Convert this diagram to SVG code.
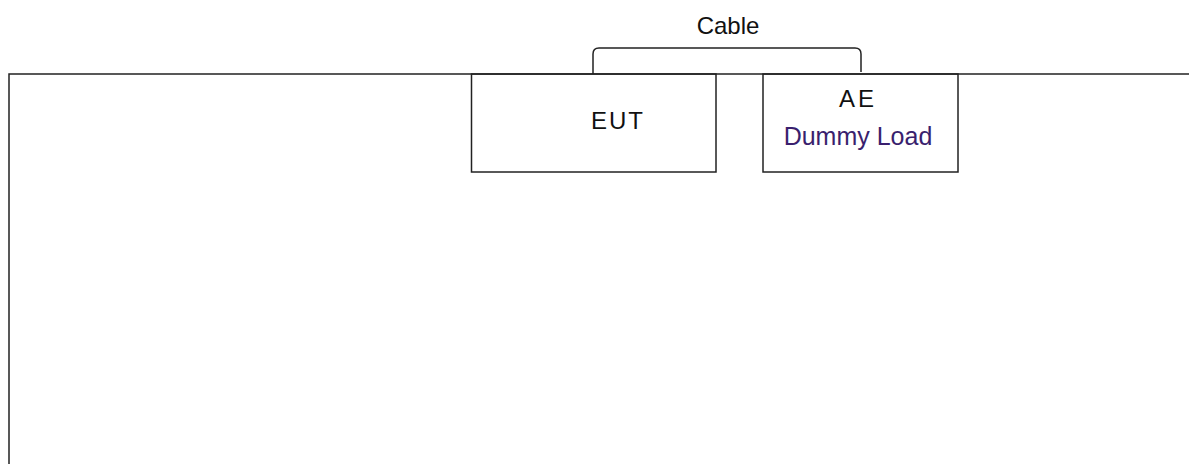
<svg xmlns="http://www.w3.org/2000/svg" width="1189" height="464" viewBox="0 0 1189 464">
<style>
.ln{fill:none;stroke:#222;stroke-width:1.5}
.t{font-family:"Liberation Sans",Arial,sans-serif;font-size:24px;text-anchor:middle;fill:#111}
.sp{letter-spacing:2px}
</style>
<rect width="1189" height="464" fill="#fff"/>
<g id="table">
<path class="ln" d="M9,464 V74 H1189"/>
</g>
<g id="eut">
<rect class="ln" x="471.5" y="74" width="244.5" height="98"/>
<text class="t sp" x="618" y="129">EUT</text>
</g>
<g id="ae">
<rect class="ln" x="763" y="74" width="195" height="98"/>
<text class="t" x="858" y="107" style="letter-spacing:3px">AE</text>
<text class="t" x="858" y="145" style="fill:#3a1f6e;font-size:25px">Dummy Load</text>
</g>
<g id="connectors">
<path class="ln" d="M593,74 V54 Q593,48 599,48 H855 Q861,48 861,54 V72"/>
<text class="t" x="728" y="34">Cable</text>
</g>
</svg>
